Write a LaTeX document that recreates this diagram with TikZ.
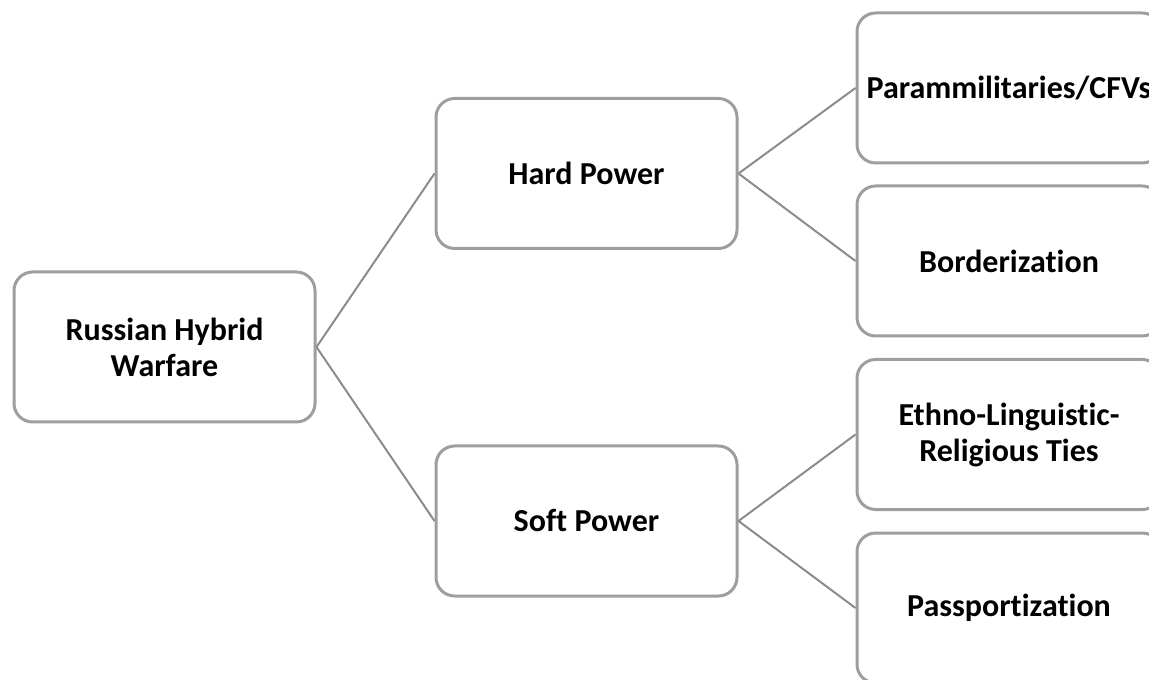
\documentclass[tikz,border=0pt]{standalone}
\usepackage{fontspec}
\setmainfont[Ligatures=NoCommon]{Carlito}
\definecolor{frame-grey}{RGB}{158,158,158}
\definecolor{link-grey}{RGB}{140,140,140}
\usepackage{tikz}
\usetikzlibrary{positioning}

\begin{document}
\begin{tikzpicture}[%
            x=0.75pt,
            y=-0.75pt,
            box/.style={%
              draw=frame-grey,
              line width=2.25pt,
              rounded corners=14pt,
              minimum width=225.75pt,
              minimum height=112.5pt,
              inner sep=2pt,
              align=center,
              font=\fontsize{24}{27}\selectfont\bfseries,
            },
            leaf/.style={box,minimum width=228pt},
            link/.style={draw=link-grey,line width=1.5pt},
          ]
            \useasboundingbox (0,0) rectangle (1149,680);
            \clip (0,0) rectangle (1149,680);

            \node [box] (warfare) at (164.5,347) {Russian Hybrid\\Warfare};
            \node [box] (hard) at (586.5,173.5) {Hard Power};
            \node [box] (soft) at (586.5,521) {Soft Power};

            \node [leaf] (paramil) at (1009,88) {Parammilitaries/CFVs};
            \node [leaf] (border) at (1009,261) {Borderization};
            \node [leaf] (ethno) at (1009,434.5) {Ethno-Linguistic-\\Religious Ties};
            \node [leaf] (passport) at (1009,608) {Passportization};

            \foreach \from/\to in {warfare/hard,warfare/soft,hard/paramil,hard/border,soft/ethno,soft/passport}
              \draw [link] (\from.east) -- (\to.west);
          \end{tikzpicture}
\end{document}
